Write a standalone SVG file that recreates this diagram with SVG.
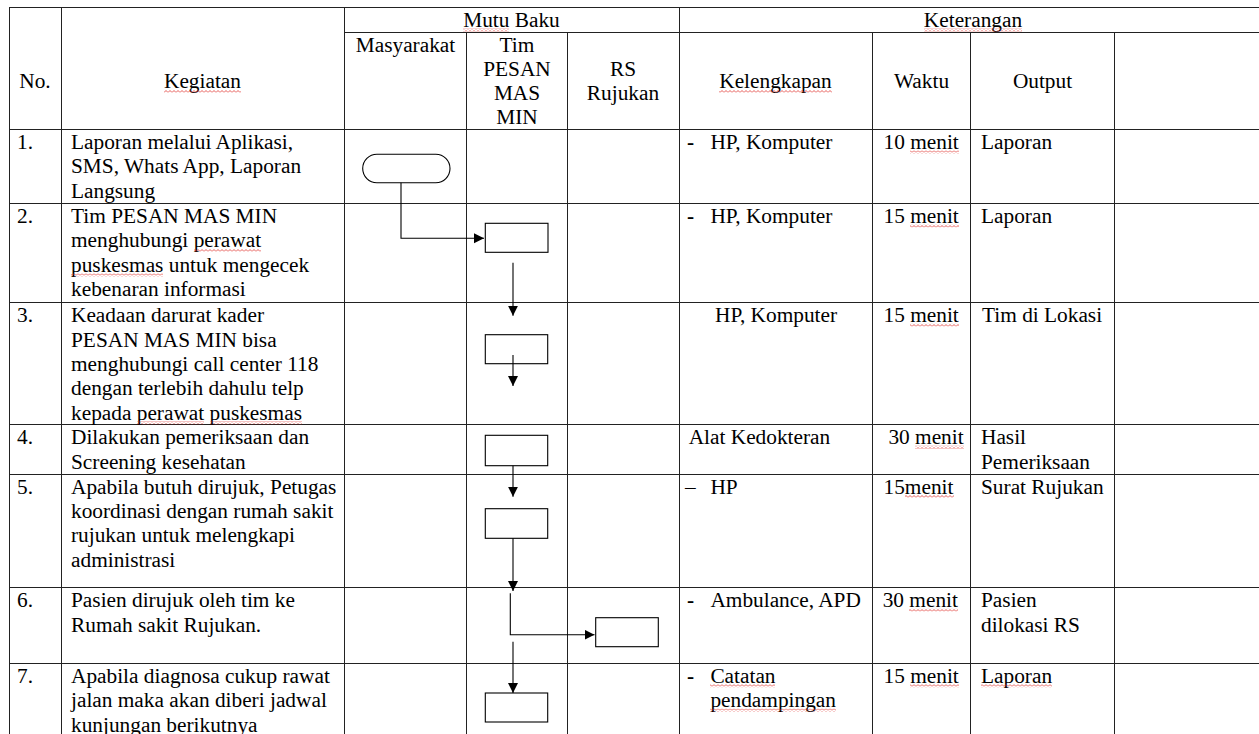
<svg xmlns="http://www.w3.org/2000/svg" width="1259" height="734" viewBox="0 0 1259 734">
<style>
.t{font-family:"Liberation Serif","Times New Roman",serif;font-size:21.33px;fill:#000}
.c{text-anchor:middle}
.b{font-weight:bold}
.grid line{stroke:#222;stroke-width:1}
.shape{fill:none;stroke:#000;stroke-width:1.1}
.conn{fill:none;stroke:#000;stroke-width:1.1;marker-end:url(#arrow)}
.sq{fill:url(#squiggle)}
</style>
<defs>
<marker id="arrow" markerUnits="userSpaceOnUse" markerWidth="11" markerHeight="11" refX="10" refY="5" orient="auto">
<path d="M0,0 L10,5 L0,10 Z" fill="#000"/>
</marker>
<pattern id="squiggle" patternUnits="userSpaceOnUse" width="4" height="3">
<path d="M0,2.5 L2,0.5 L4,2.5" fill="none" stroke="#e0302a" stroke-width="0.8"/>
</pattern>
</defs>
<rect width="1259" height="734" fill="#fff"/>
<g class="grid" id="table">
<line x1="9" y1="7.5" x2="1259" y2="7.5"/>
<line x1="344" y1="32.5" x2="1259" y2="32.5"/>
<line x1="9" y1="129.5" x2="1259" y2="129.5"/>
<line x1="9" y1="203.5" x2="1259" y2="203.5"/>
<line x1="9" y1="302.5" x2="1259" y2="302.5"/>
<line x1="9" y1="424.5" x2="1259" y2="424.5"/>
<line x1="9" y1="474.5" x2="1259" y2="474.5"/>
<line x1="9" y1="587.5" x2="1259" y2="587.5"/>
<line x1="9" y1="663.5" x2="1259" y2="663.5"/>
<line x1="9.5" y1="7" x2="9.5" y2="734"/>
<line x1="61.5" y1="7" x2="61.5" y2="734"/>
<line x1="344.5" y1="7" x2="344.5" y2="734"/>
<line x1="466.5" y1="32" x2="466.5" y2="734"/>
<line x1="567.5" y1="32" x2="567.5" y2="734"/>
<line x1="679.5" y1="7" x2="679.5" y2="734"/>
<line x1="872.5" y1="32" x2="872.5" y2="734"/>
<line x1="970.5" y1="32" x2="970.5" y2="734"/>
<line x1="1114.5" y1="32" x2="1114.5" y2="734"/>
</g>
<g id="header" class="t">
<text x="35" y="88" class="c">No.</text>
<text x="202.5" y="88" class="c">Kegiatan</text>
<text x="511.5" y="27" class="c">Mutu Baku</text>
<text x="973" y="27" class="c">Keterangan</text>
<text x="405.5" y="52" class="c">Masyarakat</text>
<text x="517" y="52" class="c">Tim</text>
<text x="517" y="76" class="c">PESAN</text>
<text x="517" y="100" class="c">MAS</text>
<text x="517" y="124" class="c">MIN</text>
<text x="623" y="76" class="c">RS</text>
<text x="623" y="100" class="c">Rujukan</text>
<text x="775.5" y="88" class="c">Kelengkapan</text>
<text x="921.5" y="88" class="c">Waktu</text>
<text x="1042.5" y="88" class="c">Output</text>
</g>
<g id="row1" class="t">
<text x="17" y="149">1.</text>
<text x="71" y="149">Laporan melalui Aplikasi,</text>
<text x="71" y="173.4">SMS, Whats App, Laporan</text>
<text x="71" y="197.8">Langsung</text>
<text x="687" y="149" class="b">-</text><text x="710.4" y="149">HP, Komputer</text>
<text x="883.5" y="149">10 menit</text>
<text x="981" y="149">Laporan</text>
</g>
<g id="row2" class="t">
<text x="17" y="223">2.</text>
<text x="71" y="223">Tim PESAN MAS MIN</text>
<text x="71" y="247.4">menghubungi perawat</text>
<text x="71" y="271.8">puskesmas untuk mengecek</text>
<text x="71" y="296.2">kebenaran informasi</text>
<text x="687" y="223" class="b">-</text><text x="710.4" y="223">HP, Komputer</text>
<text x="883.5" y="223">15 menit</text>
<text x="981" y="223">Laporan</text>
</g>
<g id="row3" class="t">
<text x="17" y="322.2">3.</text>
<text x="71" y="322.2">Keadaan darurat kader</text>
<text x="71" y="346.6">PESAN MAS MIN bisa</text>
<text x="71" y="371">menghubungi call center 118</text>
<text x="71" y="395.4">dengan terlebih dahulu telp</text>
<text x="71" y="419.8">kepada perawat puskesmas</text>
<text x="715" y="322.2">HP, Komputer</text>
<text x="883.5" y="322.2">15 menit</text>
<text x="982" y="322.2">Tim di Lokasi</text>
</g>
<g id="row4" class="t">
<text x="17" y="444.2">4.</text>
<text x="71" y="444.2">Dilakukan pemeriksaan dan</text>
<text x="71" y="468.6">Screening kesehatan</text>
<text x="688.7" y="444.2">Alat Kedokteran</text>
<text x="888.4" y="444.2">30 menit</text>
<text x="981" y="444.2">Hasil</text>
<text x="981" y="468.6">Pemeriksaan</text>
</g>
<g id="row5" class="t">
<text x="17" y="493.5">5.</text>
<text x="71" y="493.5">Apabila butuh dirujuk, Petugas</text>
<text x="71" y="517.9">koordinasi dengan rumah sakit</text>
<text x="71" y="542.3">rujukan untuk melengkapi</text>
<text x="71" y="566.7">administrasi</text>
<text x="685" y="493.5">–</text><text x="710.4" y="493.5">HP</text>
<text x="883.5" y="493.5">15menit</text>
<text x="981" y="493.5">Surat Rujukan</text>
</g>
<g id="row6" class="t">
<text x="17" y="607.2">6.</text>
<text x="71" y="607.2">Pasien dirujuk oleh tim ke</text>
<text x="71" y="631.6">Rumah sakit Rujukan.</text>
<text x="687" y="607.2" class="b">-</text><text x="710.4" y="607.2">Ambulance, APD</text>
<text x="882.7" y="607.2">30 menit</text>
<text x="981" y="607.2">Pasien</text>
<text x="981" y="631.6">dilokasi RS</text>
</g>
<g id="row7" class="t">
<text x="17" y="682.8">7.</text>
<text x="71" y="682.8">Apabila diagnosa cukup rawat</text>
<text x="71" y="707.2">jalan maka akan diberi jadwal</text>
<text x="71" y="731.6">kunjungan berikutnya</text>
<text x="687" y="682.8" class="b">-</text><text x="710.4" y="682.8">Catatan</text>
<text x="710.4" y="707.2">pendampingan</text>
<text x="883.5" y="682.8">15 menit</text>
<text x="981" y="682.8">Laporan</text>
</g>
<g id="spellcheck">
<rect class="sq" x="463" y="28.5" width="46" height="3"/>
<rect class="sq" x="924" y="28.5" width="98" height="3"/>
<rect class="sq" x="164" y="90" width="77" height="3"/>
<rect class="sq" x="719" y="90" width="113" height="3"/>
<rect class="sq" x="194" y="249" width="67" height="3"/>
<rect class="sq" x="71" y="273.5" width="92" height="3"/>
<rect class="sq" x="137" y="421.3" width="67" height="3"/>
<rect class="sq" x="210" y="421.3" width="92" height="3"/>
<rect class="sq" x="910" y="150.5" width="49" height="3"/>
<rect class="sq" x="910" y="224.5" width="49" height="3"/>
<rect class="sq" x="910" y="323.7" width="49" height="3"/>
<rect class="sq" x="915" y="445.7" width="49" height="3"/>
<rect class="sq" x="905" y="495" width="49" height="3"/>
<rect class="sq" x="909" y="608.7" width="49" height="3"/>
<rect class="sq" x="910" y="684.3" width="49" height="3"/>
<rect class="sq" x="710" y="684.3" width="65" height="3"/>
<rect class="sq" x="710" y="708.7" width="126" height="3"/>
<rect class="sq" x="981" y="684.3" width="71" height="3"/>
</g>
<g id="n1"><rect class="shape" x="362.7" y="154.3" width="87.3" height="28.4" rx="14.2"/></g>
<g id="n2"><rect class="shape" x="485.3" y="223.3" width="62.7" height="29"/></g>
<g id="n3"><rect class="shape" x="485.3" y="334.7" width="62.4" height="29"/></g>
<g id="n4"><rect class="shape" x="485.3" y="435.3" width="62.4" height="30.4"/></g>
<g id="n5"><rect class="shape" x="485.3" y="508.7" width="62.4" height="29.6"/></g>
<g id="n6"><rect class="shape" x="595.7" y="617.7" width="62.6" height="29"/></g>
<g id="n7"><rect class="shape" x="485.3" y="693" width="62.4" height="29"/></g>
<g id="connectors">
<path class="conn" d="M401,182.7 V238.3 H484"/>
<path class="conn" d="M513,262.7 V315.7"/>
<path class="conn" d="M513,355 V386"/>
<path class="conn" d="M513,465.7 V496.7"/>
<path class="conn" d="M513,538.3 V591"/>
<path class="conn" d="M510.3,593.3 V634.7 H594.5"/>
<path class="conn" d="M513,641.7 V693"/>
</g>
</svg>
